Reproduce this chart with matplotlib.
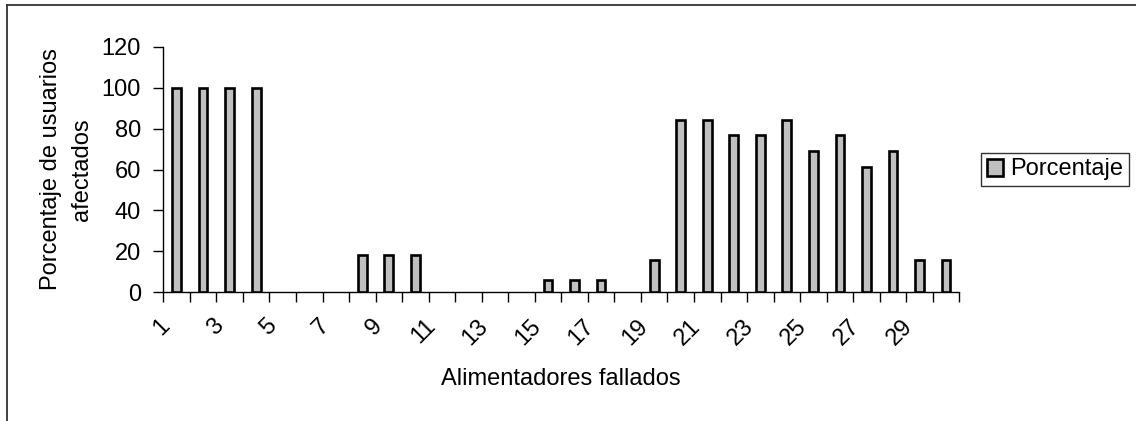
import matplotlib
matplotlib.use("Agg")
import matplotlib.pyplot as plt
from matplotlib.lines import Line2D
from matplotlib.patches import Rectangle
from matplotlib.transforms import ScaledTranslation

plt.rcParams['font.family'] = ['Liberation Sans', 'DejaVu Sans']

# Data
alimentadores = list(range(1, 31))
porcentaje = [100, 100, 100, 100, 0, 0, 0, 18, 18, 18,
              0, 0, 0, 0, 6, 6, 6, 0, 16, 84,
              84, 77, 77, 84, 69, 77, 61, 69, 16, 16]
tick_labels = [str(n) if n % 2 == 1 else "" for n in alimentadores]
serie = "Porcentaje"
y_ticks = [0, 20, 40, 60, 80, 100, 120]

W, H = 1136, 421
fig = plt.figure(figsize=(W / 100, H / 100), dpi=100)
ax_left, ax_right, ax_top, ax_bottom = 163.3, 959.3, 46.7, 292.3
ax = fig.add_axes([ax_left / W, 1 - ax_bottom / H, (ax_right - ax_left) / W,
                   (ax_bottom - ax_top) / H])

FS = 17
bar_color = "#C0C0C0"
edge_colors = ["none" if v == 0 else "black" for v in porcentaje]
ax.bar(alimentadores, porcentaje, width=0.33, color=bar_color,
       edgecolor=edge_colors, linewidth=1.9, label=serie, zorder=3)

ax.set_xlim(0.5, len(alimentadores) + 0.5)
ax.set_ylim(0, 120)
ax.set_yticks(y_ticks)
ax.set_yticklabels([str(v) for v in y_ticks], fontsize=FS)

# Category labels at bar centres, tick marks at category boundaries
ax.set_xticks(alimentadores)
ax.set_xticklabels(tick_labels, rotation=45, ha="right", va="center",
                   rotation_mode="anchor", fontsize=FS)
ax.tick_params(axis="x", which="major", length=0, pad=22)
shift = ScaledTranslation(-0.10, 0, fig.dpi_scale_trans)
for lab in ax.get_xticklabels():
    lab.set_transform(lab.get_transform() + shift)
ax.set_xticks([i + 0.5 for i in range(0, len(alimentadores) + 1)], minor=True)
ax.tick_params(axis="x", which="minor", length=7, width=1, color="black", direction="out")
ax.tick_params(axis="y", length=7, width=1, color="black", direction="out", pad=9)

for s in ("top", "right"):
    ax.spines[s].set_visible(False)
for s in ("left", "bottom"):
    ax.spines[s].set_linewidth(1)
    ax.spines[s].set_color("black")

ax.set_xlabel("Alimentadores fallados", fontsize=FS)
ax.xaxis.set_label_coords(0.5, (ax_bottom - 368) / (ax_bottom - ax_top))
ax.set_ylabel("Porcentaje de usuarios\nafectados", fontsize=FS, linespacing=1.55)
ax.yaxis.set_label_coords((93 - ax_left) / (ax_right - ax_left), 0.5)

# Legend box
leg = fig.legend(handles=[Rectangle((0, 0), 1, 1, facecolor=bar_color,
                                    edgecolor="black", linewidth=1.9)],
                 labels=[serie], loc="center left",
                 bbox_to_anchor=(981 / W, 1 - 169.5 / H), fontsize=FS,
                 frameon=True, fancybox=False, edgecolor="black",
                 handlelength=0.7, handleheight=0.7, handletextpad=0.3,
                 borderpad=0.25, borderaxespad=0)
leg.get_frame().set_linewidth(1)

# Chart frame
fig.add_artist(Line2D([6.5 / W, 6.5 / W], [0, 1 - 4.5 / H], transform=fig.transFigure,
                      color="#333333", linewidth=1.3))
fig.add_artist(Line2D([6.5 / W, 1], [1 - 4.5 / H, 1 - 4.5 / H], transform=fig.transFigure,
                      color="#333333", linewidth=1.3))

fig.savefig("out.png", dpi=100)
